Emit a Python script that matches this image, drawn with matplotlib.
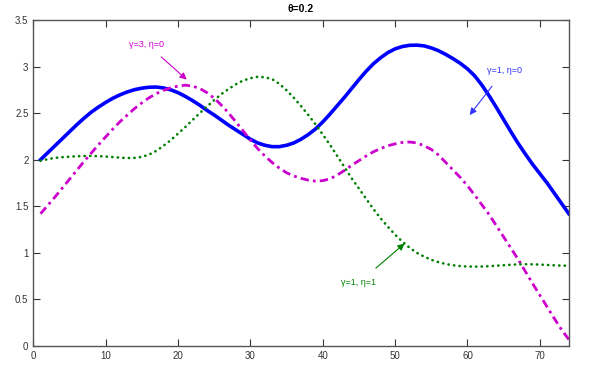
import numpy as np
from matplotlib import pyplot as plt

plt.rcParams['font.family'] = ['Liberation Sans', 'DejaVu Sans']

x = list(range(1, 75))

y_blue = [2.00, 2.075, 2.15, 2.225, 2.30, 2.375, 2.445, 2.51, 2.565, 2.615,
          2.66, 2.697, 2.728, 2.752, 2.768, 2.778, 2.78, 2.77, 2.75, 2.72,
          2.68, 2.635, 2.585, 2.53, 2.48, 2.425, 2.37, 2.32, 2.27, 2.22,
          2.18, 2.155, 2.14, 2.14, 2.155, 2.18, 2.22, 2.27, 2.33, 2.405,
          2.49, 2.58, 2.67, 2.765, 2.86, 2.95, 3.03, 3.095, 3.15, 3.19,
          3.215, 3.228, 3.23, 3.222, 3.20, 3.17, 3.13, 3.085, 3.035, 2.975,
          2.90, 2.80, 2.685, 2.56, 2.43, 2.30, 2.175, 2.06, 1.95, 1.85,
          1.75, 1.64, 1.53, 1.42]

y_mag = [1.42, 1.51, 1.60, 1.695, 1.79, 1.885, 1.98, 2.07, 2.16, 2.245,
         2.33, 2.41, 2.48, 2.55, 2.61, 2.665, 2.71, 2.745, 2.772, 2.79,
         2.80, 2.79, 2.765, 2.72, 2.66, 2.585, 2.50, 2.405, 2.31, 2.21,
         2.12, 2.04, 1.97, 1.91, 1.86, 1.825, 1.80, 1.78, 1.77, 1.775,
         1.795, 1.835, 1.885, 1.94, 1.99, 2.04, 2.085, 2.12, 2.15, 2.17,
         2.185, 2.19, 2.18, 2.15, 2.11, 2.05, 1.97, 1.89, 1.81, 1.72,
         1.62, 1.515, 1.41, 1.29, 1.17, 1.05, 0.93, 0.80, 0.67, 0.545,
         0.42, 0.295, 0.175, 0.07]

y_green = [1.99, 2.005, 2.02, 2.027, 2.032, 2.037, 2.04, 2.04, 2.038, 2.034,
           2.028, 2.022, 2.018, 2.02, 2.03, 2.055, 2.095, 2.15, 2.21, 2.28,
           2.35, 2.425, 2.50, 2.57, 2.64, 2.705, 2.76, 2.81, 2.85, 2.875,
           2.89, 2.885, 2.865, 2.815, 2.745, 2.665, 2.575, 2.48, 2.38, 2.27,
           2.16, 2.04, 1.92, 1.80, 1.69, 1.58, 1.47, 1.37, 1.28, 1.195,
           1.12, 1.055, 1.00, 0.96, 0.925, 0.90, 0.88, 0.867, 0.858, 0.853,
           0.852, 0.853, 0.857, 0.862, 0.867, 0.872, 0.876, 0.878, 0.877, 0.874,
           0.87, 0.866, 0.863, 0.862]

fig = plt.figure(figsize=(6, 3.68), dpi=100)
ax = fig.add_axes([0.0555, 0.0598, 0.8925, 0.8859])

ax.plot(x, y_blue, color='#0000ff', lw=2.6, solid_joinstyle='round')
ax.plot(x, y_mag, color='#cc00cc', lw=2, linestyle=(0, (3, 1.5, 1, 1.5)))
ax.plot(x, y_green, color='#008000', lw=1.9, linestyle=(0, (0.1, 2.0)),
        dash_capstyle='round')

ax.set_xlim(0, 74)
ax.set_ylim(0, 3.5)
ax.set_xticks(np.arange(0, 71, 10))
ax.set_yticks(np.arange(0, 3.51, 0.5))
ax.set_yticklabels(['0', '0.5', '1', '1.5', '2', '2.5', '3', '3.5'])
ax.tick_params(direction='in', top=True, right=True, labelsize=7,
               colors='#333333', length=5, width=0.8)
for s in ax.spines.values():
    s.set_color('#555555')
    s.set_linewidth(1)

ax.set_title('θ=0.2', fontsize=7.5, fontweight='bold', pad=6)

ax.annotate('γ=1, η=0', xy=(60.3, 2.48), xytext=(65.1, 2.96), color='#3333ff',
            fontsize=6.5, ha='center', va='center',
            arrowprops=dict(arrowstyle='-|>', color='#3333ff', lw=0.8,
                            shrinkA=8, shrinkB=0, mutation_scale=10))
ax.annotate('γ=3, η=0', xy=(21.2, 2.86), xytext=(15.7, 3.24), color='#cc00cc',
            fontsize=6.5, ha='center', va='center',
            arrowprops=dict(arrowstyle='-|>', color='#cc00cc', lw=0.8,
                            shrinkA=6, shrinkB=0, mutation_scale=10))
ax.annotate('γ=1, η=1', xy=(51.3, 1.10), xytext=(45.0, 0.68), color='#008000',
            fontsize=6.5, ha='center', va='center',
            arrowprops=dict(arrowstyle='-|>', color='#008000', lw=0.8,
                            shrinkA=8, shrinkB=0, mutation_scale=10))

fig.savefig('out.png', dpi=100)
